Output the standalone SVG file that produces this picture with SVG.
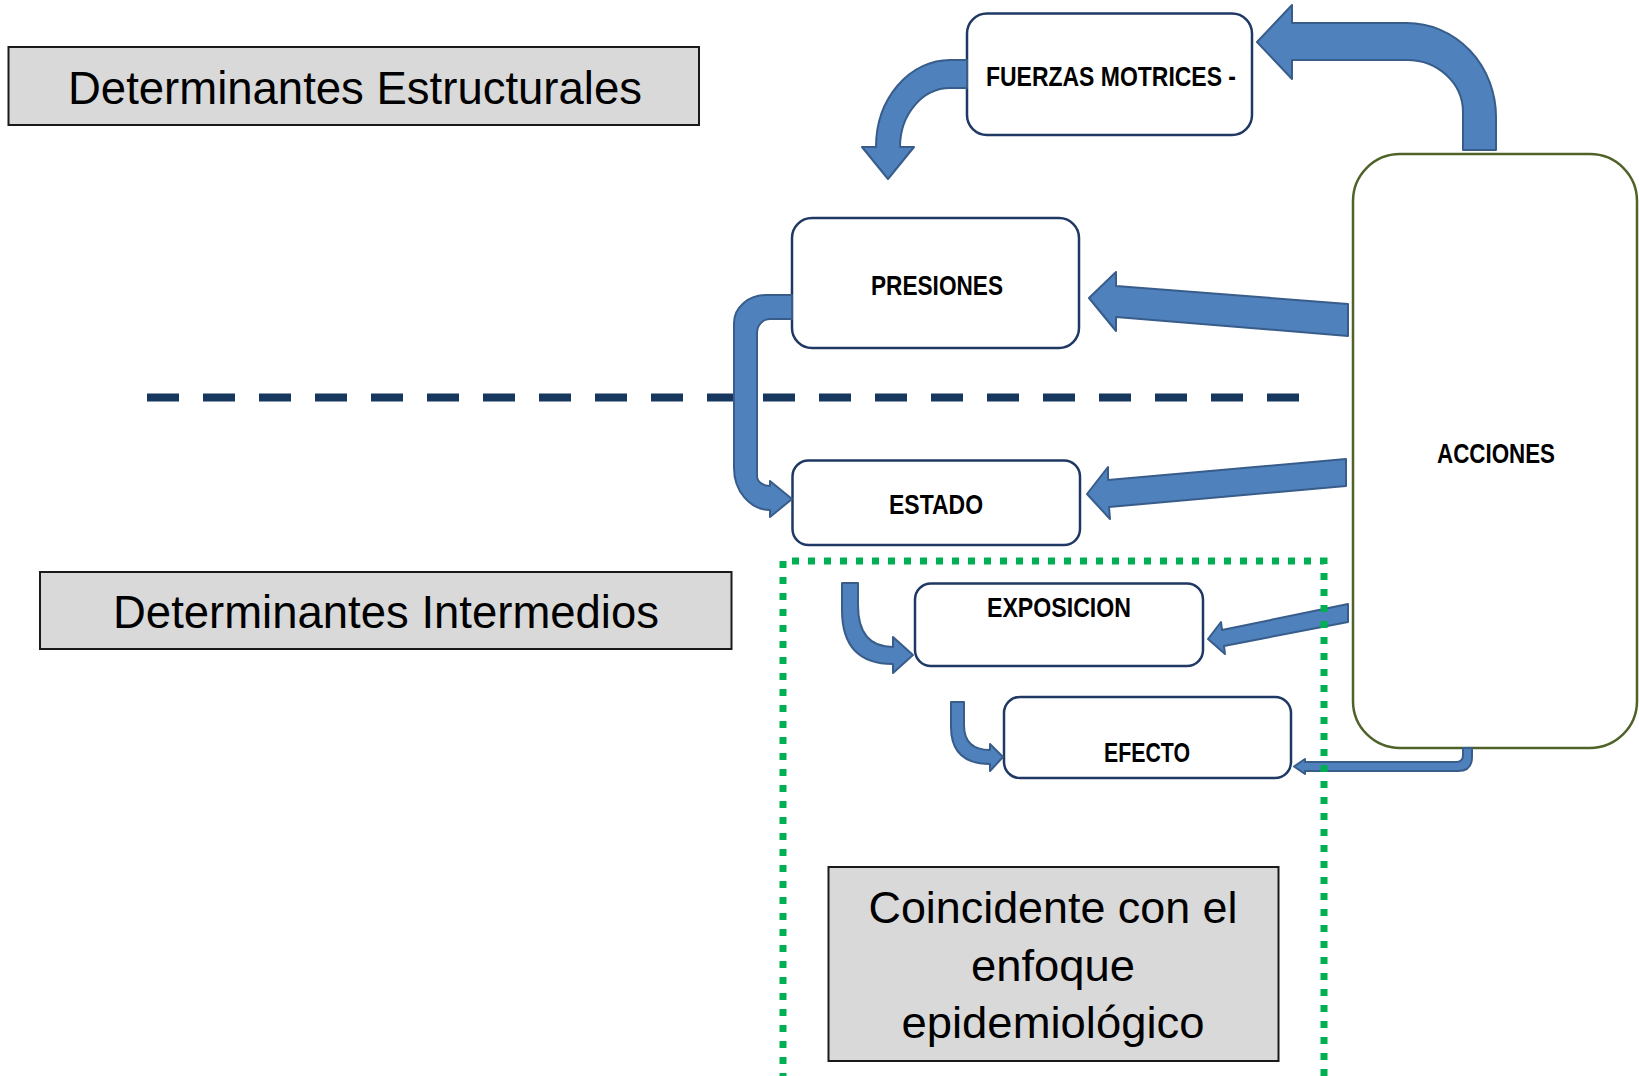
<svg xmlns="http://www.w3.org/2000/svg" width="1639" height="1076" viewBox="0 0 1639 1076">
<style>
.gray{fill:#D9D9D9;stroke:#1a1a1a;stroke-width:2}
.node{fill:#FFFFFF;stroke:#1F3864;stroke-width:2.5}
.acc{fill:#FFFFFF;stroke:#4F6228;stroke-width:2.5}
.arrow{fill:#4F81BD;stroke:#385D8A;stroke-width:2;stroke-linejoin:round}
.lbl{font-family:"Liberation Sans",Arial,sans-serif;font-weight:bold;font-size:28px;fill:#000;text-anchor:middle}
.big{font-family:"Liberation Sans",Arial,sans-serif;font-size:46px;fill:#000;text-anchor:middle}
.mid{font-family:"Liberation Sans",Arial,sans-serif;font-size:44px;fill:#000;text-anchor:middle}
.dash{fill:none;stroke:#17375E;stroke-width:8;stroke-dasharray:32 24}
.dots{fill:none;stroke:#00B050;stroke-width:7;stroke-dasharray:7 9}
</style>
<rect width="1639" height="1076" fill="#FFFFFF"/>
<g id="det-estructurales">
<rect class="gray" x="8.5" y="47" width="690.5" height="78"/>
<text class="big" x="355" y="104" textLength="574" lengthAdjust="spacingAndGlyphs">Determinantes Estructurales</text>
</g>
<g id="det-intermedios">
<rect class="gray" x="40" y="572" width="691.5" height="77"/>
<text class="big" x="386" y="628" textLength="546" lengthAdjust="spacingAndGlyphs">Determinantes Intermedios</text>
</g>
<path id="divider" class="dash" d="M147,397.5 L1299,397.5"/>
<g id="fuerzas">
<rect class="node" x="967" y="13.5" width="285" height="121.5" rx="20"/>
<text class="lbl" x="1111" y="86" textLength="250" lengthAdjust="spacingAndGlyphs">FUERZAS MOTRICES -</text>
</g>
<g id="presiones">
<rect class="node" x="792" y="218" width="287" height="130" rx="20"/>
<text class="lbl" x="937" y="295" textLength="132" lengthAdjust="spacingAndGlyphs">PRESIONES</text>
</g>
<g id="estado">
<rect class="node" x="792.5" y="460.5" width="287.5" height="84.5" rx="16"/>
<text class="lbl" x="936" y="514" textLength="94" lengthAdjust="spacingAndGlyphs">ESTADO</text>
</g>
<g id="exposicion">
<rect class="node" x="915" y="583.5" width="288" height="82.5" rx="16"/>
<text class="lbl" x="1059" y="617" textLength="144" lengthAdjust="spacingAndGlyphs">EXPOSICION</text>
</g>
<g id="efecto">
<rect class="node" x="1004" y="697" width="287" height="81" rx="16"/>
<text class="lbl" x="1147" y="762" textLength="86" lengthAdjust="spacingAndGlyphs">EFECTO</text>
</g>
<g id="acciones">
<rect class="acc" x="1353" y="154" width="284" height="594" rx="47"/>
<text class="lbl" x="1496" y="463" textLength="118" lengthAdjust="spacingAndGlyphs">ACCIONES</text>
</g>
<g id="connectors">
<path class="arrow" d="M1257,42 L1292,5 L1292,23 L1407,23 A89,94 0 0 1 1496,117 L1496,150 L1463,150 L1463,112 A56,52 0 0 0 1407,60 L1292,60 L1292,79 Z"/>
<path class="arrow" d="M967,60 L950,60 A74,87 0 0 0 876,147 L862,147 L888,179 L914,147 L900,147 A50,59 0 0 1 950,88 L967,88 Z"/>
<path class="arrow" d="M1089,298 L1116,272 L1116,286 L1348,304 L1348,336 L1116,317 L1116,331 Z"/>
<path class="arrow" d="M1087,494 L1108,467 L1108,480 L1346,459 L1346,486 L1109,507 L1110,519 Z"/>
<path class="arrow" d="M1208,639 L1221,622 L1222,630 L1348,604 L1348,622 L1224,646 L1225,654 Z"/>
<path class="arrow" d="M1463,748 L1472,748 L1472,757 Q1472,771 1458,771 L1305,771 L1305,774 L1294,766.5 L1305,759 L1305,762 L1456,762 Q1463,762 1463,755 Z" stroke-width="1.5"/>
<path class="arrow" d="M792,295 L766,295 A32,28 0 0 0 734,323 L734,468 A36,42 0 0 0 770,510 L770,517 L792,499 L770,481 L770,486 A13,10 0 0 1 757,476 L757,333 A13,14 0 0 1 770,319 L792,319 Z"/>
<path class="arrow" d="M842,583 L858,583 L858,605 Q858,647 893,647 L893,637 L913,655 L893,673 L893,664 Q842,664 842,610 Z"/>
<path class="arrow" d="M951,702 L964,702 L964,725 Q964,750 990,750 L990,744 L1003,757 L990,771 L990,764 Q951,764 951,727 Z"/>
</g>
<path id="epi-zone" class="dots" d="M783,1080 L783,561 L1324,561 L1324,1080"/>
<g id="coincidente">
<rect class="gray" x="828.5" y="867" width="450" height="194"/>
<text class="mid" x="1053" y="923" textLength="369" lengthAdjust="spacingAndGlyphs">Coincidente con el</text>
<text class="mid" x="1053" y="981" textLength="164" lengthAdjust="spacingAndGlyphs">enfoque</text>
<text class="mid" x="1053" y="1038" textLength="303" lengthAdjust="spacingAndGlyphs">epidemiológico</text>
</g>
</svg>
